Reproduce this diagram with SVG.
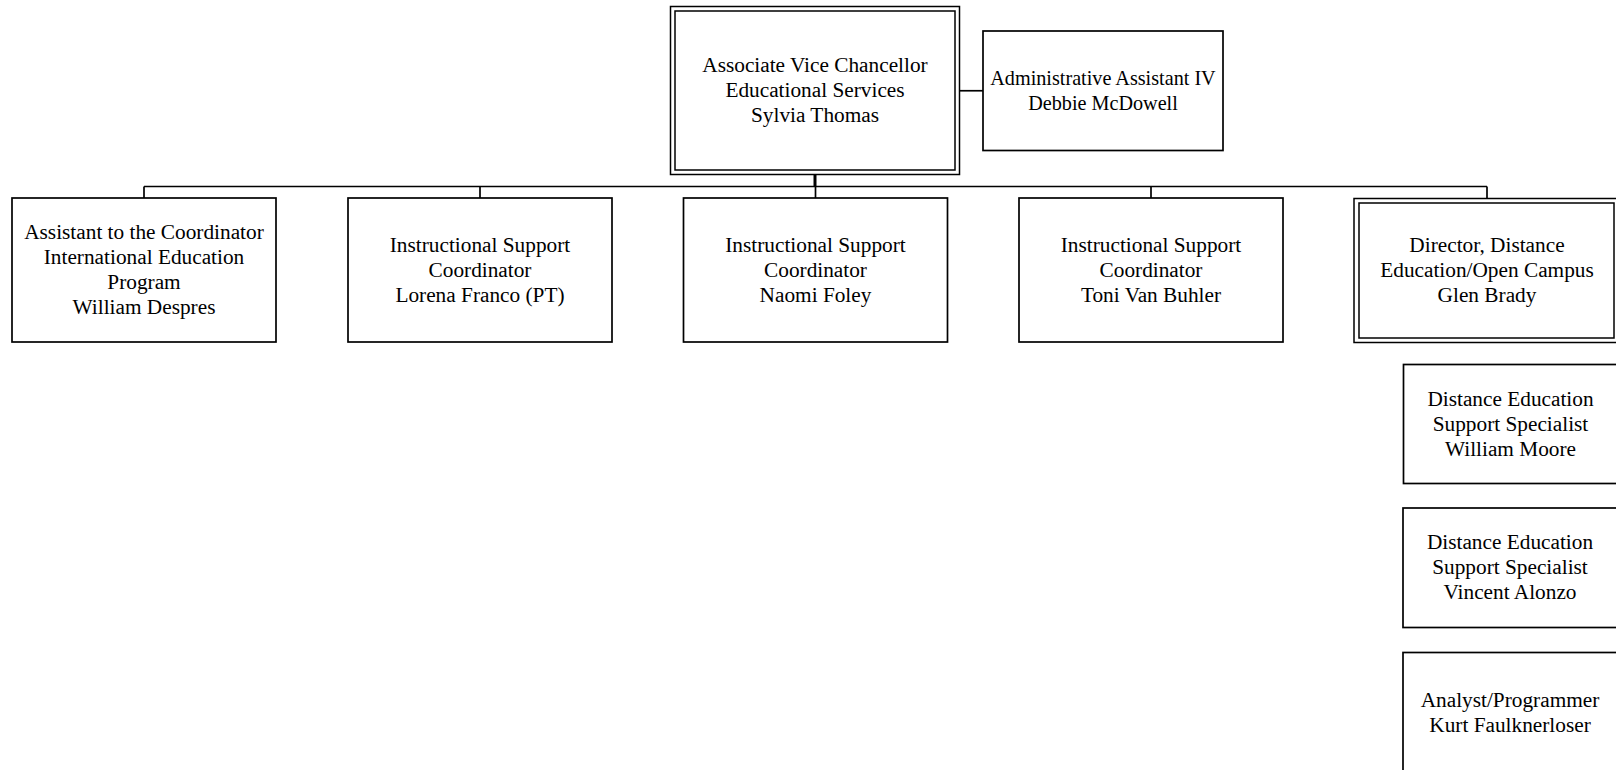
<svg xmlns="http://www.w3.org/2000/svg" width="1616" height="770" viewBox="0 0 1616 770">
<style>
.box{fill:#fff;stroke:#000;stroke-width:1.7}
.dbl{fill:none;stroke:#000;stroke-width:1.5}
.con{fill:none;stroke:#000;stroke-width:1.7}
text{font-family:"Liberation Serif","Times New Roman",serif;font-size:21.3px;fill:#000;text-anchor:middle}
.sm{font-size:20.2px}
</style>
<rect width="1616" height="770" fill="#fff"/>
<g id="connectors">
<line class="con" x1="959" y1="90.75" x2="983" y2="90.75"/>
<line x1="815" y1="174" x2="815" y2="187" stroke="#000" stroke-width="3"/>
<line class="con" x1="144" y1="186.5" x2="1487" y2="186.5"/>
<line class="con" x1="144" y1="186.5" x2="144" y2="198"/>
<line class="con" x1="480" y1="186.5" x2="480" y2="198"/>
<line class="con" x1="815.5" y1="186.5" x2="815.5" y2="198"/>
<line class="con" x1="1151" y1="186.5" x2="1151" y2="198"/>
<line class="con" x1="1487" y1="186.5" x2="1487" y2="198"/>
</g>
<g id="avc">
<rect class="dbl" x="670.5" y="6.5" width="289" height="168"/>
<rect class="dbl" x="675" y="11" width="280" height="159"/>
<text x="815" y="72">Associate Vice Chancellor</text>
<text x="815" y="97">Educational Services</text>
<text x="815" y="122">Sylvia Thomas</text>
</g>
<g id="admin">
<rect class="box" x="983" y="31" width="240" height="119.5"/>
<text class="sm" x="1103" y="85">Administrative Assistant IV</text>
<text class="sm" x="1103" y="110">Debbie McDowell</text>
</g>
<g id="despres">
<rect class="box" x="12" y="198" width="264" height="144"/>
<text x="144" y="239">Assistant to the Coordinator</text>
<text x="144" y="264">International Education</text>
<text x="144" y="289">Program</text>
<text x="144" y="314">William Despres</text>
</g>
<g id="franco">
<rect class="box" x="348" y="198" width="264" height="144"/>
<text x="480" y="251.5">Instructional Support</text>
<text x="480" y="276.5">Coordinator</text>
<text x="480" y="301.5">Lorena Franco (PT)</text>
</g>
<g id="foley">
<rect class="box" x="683.5" y="198" width="264" height="144"/>
<text x="815.5" y="251.5">Instructional Support</text>
<text x="815.5" y="276.5">Coordinator</text>
<text x="815.5" y="301.5">Naomi Foley</text>
</g>
<g id="vanbuhler">
<rect class="box" x="1019" y="198" width="264" height="144"/>
<text x="1151" y="251.5">Instructional Support</text>
<text x="1151" y="276.5">Coordinator</text>
<text x="1151" y="301.5">Toni Van Buhler</text>
</g>
<g id="brady">
<rect class="dbl" x="1354" y="198.5" width="266" height="144"/>
<text x="1487" y="251.5">Director, Distance</text>
<text x="1487" y="276.5">Education/Open Campus</text>
<text x="1487" y="301.5">Glen Brady</text>
<rect class="dbl" x="1359" y="203" width="255" height="135"/>
</g>
<g id="moore">
<rect class="box" x="1403.5" y="364.5" width="214" height="119"/>
<text x="1510.5" y="405.5">Distance Education</text>
<text x="1510.5" y="430.5">Support Specialist</text>
<text x="1510.5" y="455.5">William Moore</text>
</g>
<g id="alonzo">
<rect class="box" x="1403" y="508" width="214" height="119.5"/>
<text x="1510" y="549">Distance Education</text>
<text x="1510" y="574">Support Specialist</text>
<text x="1510" y="599">Vincent Alonzo</text>
</g>
<g id="faulknerloser">
<rect class="box" x="1403" y="652.5" width="214" height="122"/>
<text x="1510" y="707">Analyst/Programmer</text>
<text x="1510" y="732">Kurt Faulknerloser</text>
</g>
</svg>
